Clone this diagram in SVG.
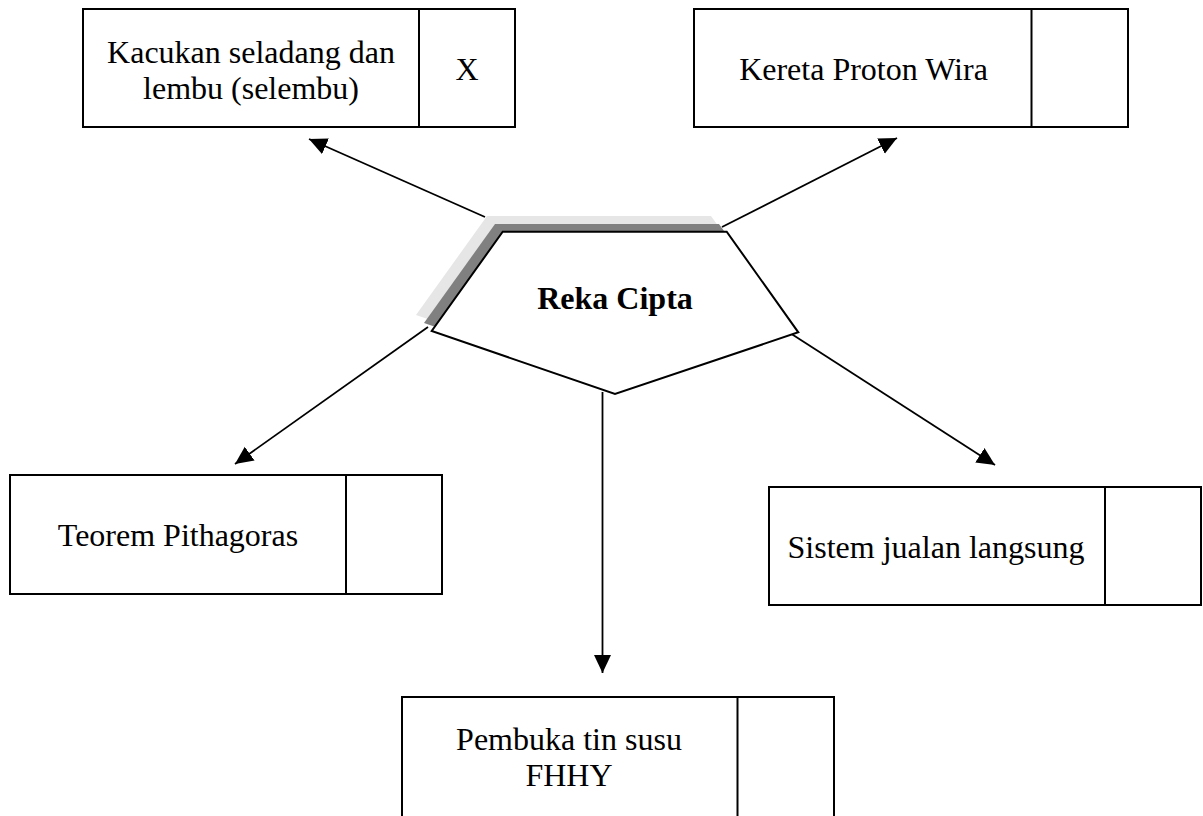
<svg xmlns="http://www.w3.org/2000/svg" width="1203" height="816" viewBox="0 0 1203 816">
<style>
.box{fill:#fff;stroke:#000;stroke-width:2}
.div{stroke:#000;stroke-width:2}
.t{font-family:"Liberation Serif","Times New Roman",serif;font-size:32px;fill:#000;text-anchor:middle}
.b{font-weight:bold}
.conn{stroke:#000;stroke-width:1.8;fill:none}
</style>
<defs>
<marker id="arr" markerUnits="userSpaceOnUse" markerWidth="20" markerHeight="18" refX="18" refY="8.5" orient="auto">
<path d="M0,0 L18,8.5 L0,17 z" fill="#000"/>
</marker>
</defs>
<rect width="1203" height="816" fill="#fff"/>
<g id="connectors">
<line class="conn" x1="485" y1="217" x2="309" y2="139" marker-end="url(#arr)"/>
<line class="conn" x1="722" y1="227" x2="897" y2="138" marker-end="url(#arr)"/>
<line class="conn" x1="428" y1="327" x2="235" y2="464" marker-end="url(#arr)"/>
<line class="conn" x1="790" y1="333" x2="995" y2="465" marker-end="url(#arr)"/>
<line class="conn" x1="602.5" y1="392" x2="602.5" y2="673" marker-end="url(#arr)"/>
</g>
<g id="center">
<polygon points="487,216 711,216 783,316 600,378 416,315" fill="#e6e6e6"/>
<polygon points="495,224 719,224 791,324 608,386 424,323" fill="#808080"/>
<polygon points="502.7,231.7 726.7,231.7 798.3,332.3 615,394 431.7,331" fill="#fff" stroke="#000" stroke-width="2"/>
<text class="t b" x="615" y="309">Reka Cipta</text>
</g>
<g id="n1">
<rect class="box" x="83" y="9" width="432" height="118"/>
<line class="div" x1="419" y1="9" x2="419" y2="127"/>
<text class="t" x="251" y="63">Kacukan seladang dan</text>
<text class="t" x="251" y="99">lembu (selembu)</text>
<text class="t" x="467" y="80">X</text>
</g>
<g id="n2">
<rect class="box" x="694" y="9" width="434" height="118"/>
<line class="div" x1="1031.5" y1="9" x2="1031.5" y2="127"/>
<text class="t" x="863.5" y="80">Kereta Proton Wira</text>
</g>
<g id="n3">
<rect class="box" x="10" y="475" width="432" height="119"/>
<line class="div" x1="346" y1="475" x2="346" y2="594"/>
<text class="t" x="178" y="546">Teorem Pithagoras</text>
</g>
<g id="n4">
<rect class="box" x="769" y="487" width="432" height="118"/>
<line class="div" x1="1105" y1="487" x2="1105" y2="605"/>
<text class="t" x="936" y="558">Sistem jualan langsung</text>
</g>
<g id="n5">
<rect class="box" x="402" y="697" width="432" height="140"/>
<line class="div" x1="737.5" y1="697" x2="737.5" y2="837"/>
<text class="t" x="569" y="750">Pembuka tin susu</text>
<text class="t" x="569" y="786">FHHY</text>
</g>
</svg>
